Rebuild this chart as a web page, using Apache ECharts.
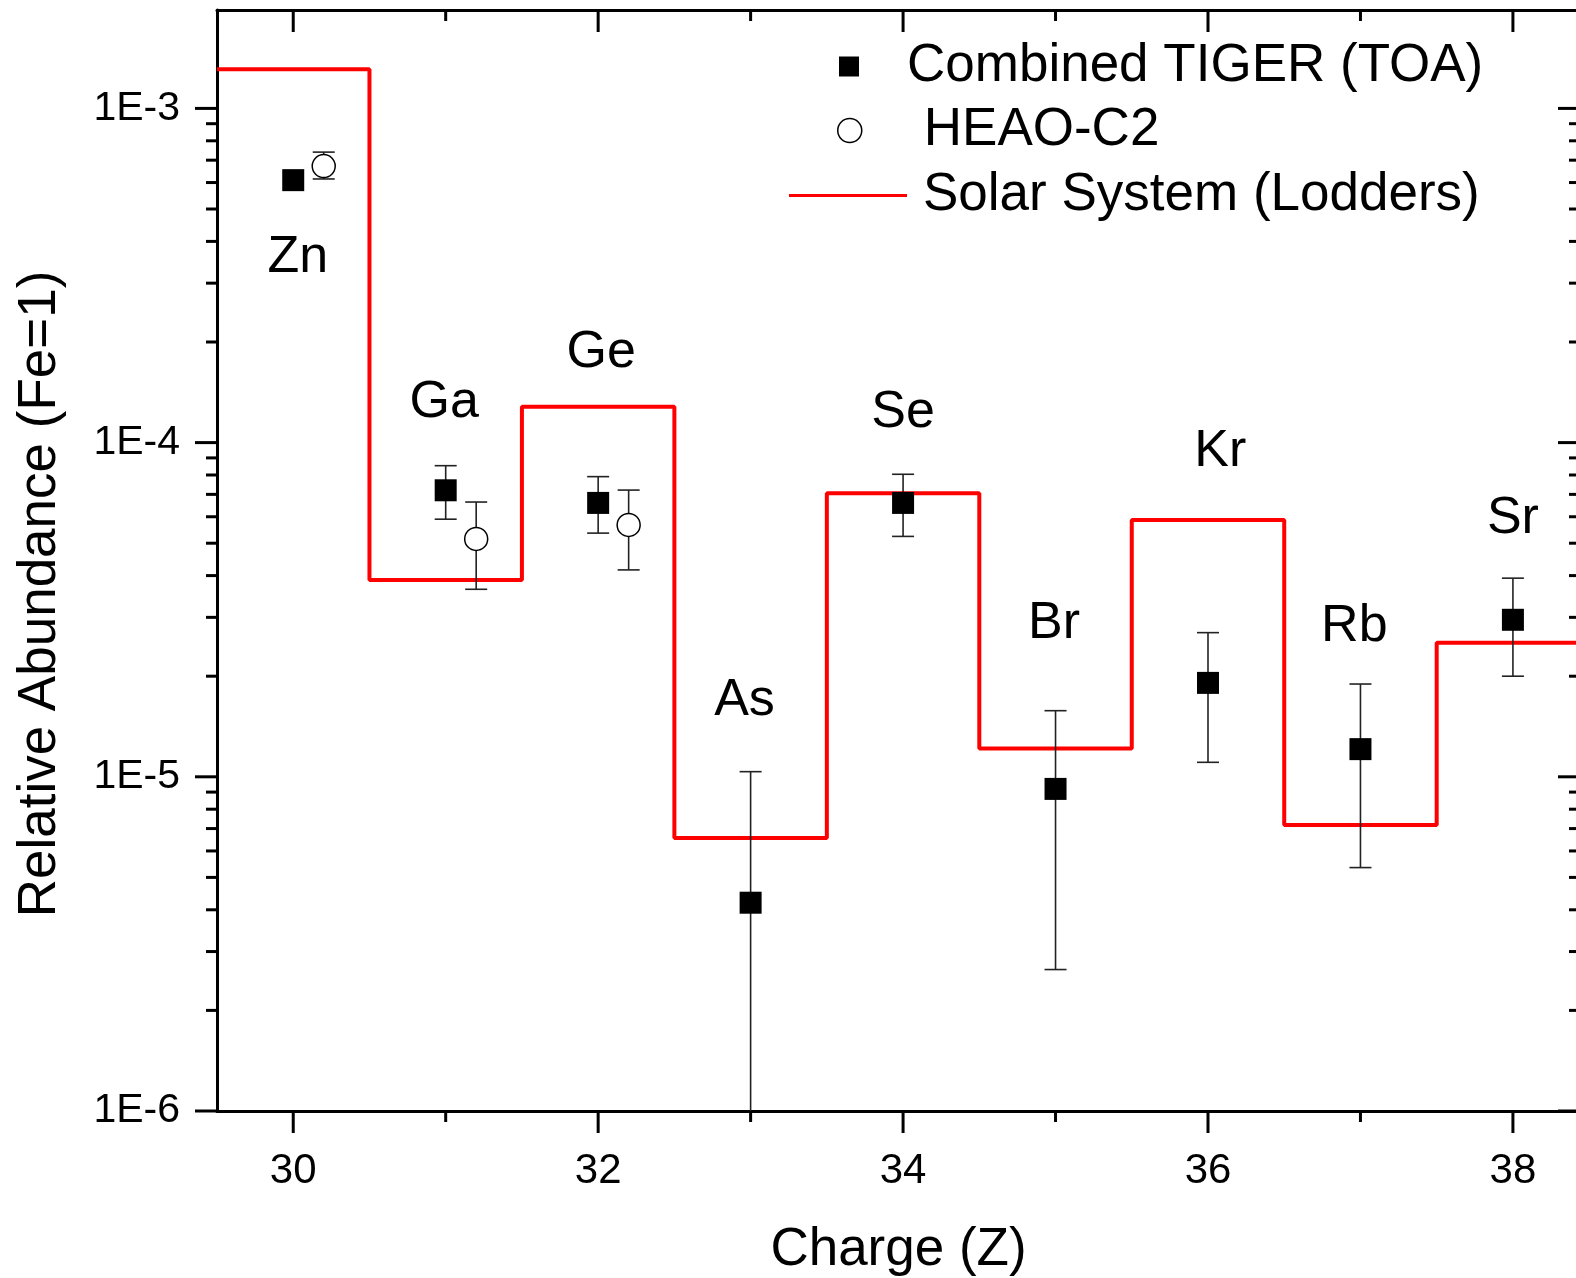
<!DOCTYPE html>
<html>
<head>
<meta charset="utf-8">
<script src="https://cdn.jsdelivr.net/npm/echarts@6/dist/echarts.min.js"></script>
<style>
html,body{margin:0;padding:0;background:#fff;}
#chart{width:1576px;height:1278px;}
</style>
</head>
<body>
<div id="chart"></div>
<script>
// ---------- data ----------
const Z = [30, 31, 32, 33, 34, 35, 36, 37, 38];
const elements = ['Zn', 'Ga', 'Ge', 'As', 'Se', 'Br', 'Kr', 'Rb', 'Sr'];

// Combined TIGER (TOA)
const tigerValue = [6.1e-4, 7.2e-5, 6.6e-5, 4.2e-6, 6.6e-5, 9.2e-6, 1.91e-5, 1.21e-5, 2.95e-5];
const tigerLow   = [null,   5.9e-5, 5.36e-5, 4.0e-7, 5.24e-5, 2.65e-6, 1.105e-5, 5.35e-6, 2.0e-5];
const tigerHigh  = [null,   8.53e-5, 7.91e-5, 1.036e-5, 8.04e-5, 1.577e-5, 2.70e-5, 1.895e-5, 3.93e-5];

// HEAO-C2 (plotted slightly offset in Z)
const heaoZ     = [30.2, 31.2, 32.2];
const heaoValue = [6.72e-4, 5.15e-5, 5.67e-5];
const heaoLow   = [6.15e-4, 3.64e-5, 4.16e-5];
const heaoHigh  = [7.4e-4, 6.64e-5, 7.21e-5];

// Solar System (Lodders)
const solar = [1.31e-3, 3.88e-5, 1.28e-4, 6.56e-6, 7.05e-5, 1.216e-5, 5.87e-5, 7.17e-6, 2.52e-5];

// element label anchor positions
const labelZ     = [30.03, 30.99, 32.02, 32.96, 34.0, 34.99, 36.08, 36.96, 38.0];
const labelValue = [3.67e-4, 1.35e-4, 1.905e-4, 1.733e-5, 1.26e-4, 2.945e-5, 9.63e-5, 2.885e-5, 6.07e-5];

// axes
const X_MIN = 29.5, X_MAX = 38.44;
const Y_MIN = 1e-6, Y_MAX = 1.97e-3;
const xTickValues = [30, 31, 32, 33, 34, 35, 36, 37, 38];
const xMajor = [30, 32, 34, 36, 38];
const yDecades = [-6, -5, -4, -3];
const yMultipliers = [1, 2, 3, 4, 5, 6, 7, 8, 9];

// ---------- build ----------
const FONT = 'Liberation Sans, Arial, Helvetica, sans-serif';
const yTickValues = [];
yDecades.forEach(d => yMultipliers.forEach(m => {
  const v = m * Math.pow(10, d);
  if (v >= Y_MIN * 0.999 && v <= Y_MAX) yTickValues.push(v);
}));
function isDecade(v) {
  const l = Math.log10(v);
  return Math.abs(l - Math.round(l)) < 1e-6;
}

const solarLine = [[X_MIN, solar[0]]]
  .concat(Z.map((z, i) => [z, solar[i]]))
  .concat([[38.5, solar[solar.length - 1]]]);

const tigerPts = Z.map((z, i) => [z, tigerValue[i]]);
const tigerErr = Z.map((z, i) => [z, tigerLow[i], tigerHigh[i]]).filter(d => d[1] != null);
const heaoPts = heaoZ.map((z, i) => [z, heaoValue[i]]);
const heaoErr = heaoZ.map((z, i) => [z, heaoLow[i], heaoHigh[i]]);
const labelPts = labelZ.map((z, i) => ({ value: [z, labelValue[i]], name: elements[i] }));

function errorRender(params, api) {
  const cs = params.coordSys;
  const x = api.coord([api.value(0), api.value(2)])[0];
  const yTop = api.coord([api.value(0), api.value(2)])[1];
  let yBot = api.coord([api.value(0), api.value(1)])[1];
  const bottomEdge = cs.y + cs.height;
  const clipped = yBot > bottomEdge;
  if (clipped) yBot = bottomEdge;
  const st = { stroke: '#222', lineWidth: 1.6 };
  const ch = [
    { type: 'line', shape: { x1: x, y1: yTop, x2: x, y2: yBot }, style: st },
    { type: 'line', shape: { x1: x - 11, y1: yTop, x2: x + 11, y2: yTop }, style: st }
  ];
  if (!clipped) ch.push({ type: 'line', shape: { x1: x - 11, y1: yBot, x2: x + 11, y2: yBot }, style: st });
  return { type: 'group', children: ch };
}

const legendText = { fontSize: 53, color: '#000', fontFamily: FONT, lineHeight: 53 };

const chart = echarts.init(document.getElementById('chart'), null, { renderer: 'canvas' });
const option = {
  backgroundColor: '#ffffff',
  animation: false,
  textStyle: { fontFamily: FONT },
  grid: { left: 217, top: 10, width: 1363, height: 1101, containLabel: false, outerBoundsMode: 'none' },
  legend: [
    {
      left: 839, top: 40, padding: 0, selectedMode: false, orient: 'vertical',
      itemWidth: 20, itemHeight: 20,
      textStyle: Object.assign({}, legendText, { padding: [0, 0, 0, 43] }),
      data: [{ name: 'Combined TIGER (TOA)', icon: 'rect', itemStyle: { color: '#000', borderWidth: 0 } }]
    },
    {
      left: 837, top: 104, padding: 0, selectedMode: false, orient: 'vertical',
      itemWidth: 24, itemHeight: 24,
      textStyle: Object.assign({}, legendText, { padding: [0, 0, 0, 57] }),
      data: [{ name: 'HEAO-C2', icon: 'circle', itemStyle: { color: '#fff', borderColor: '#000', borderWidth: 1.5 } }]
    },
    {
      left: 789, top: 169, padding: 0, selectedMode: false, orient: 'vertical',
      itemWidth: 118, itemHeight: 3,
      textStyle: Object.assign({}, legendText, { padding: [0, 0, 0, 11] }),
      data: [{ name: 'Solar System (Lodders)', icon: 'path://M0,0 H118 V3 H0 Z', itemStyle: { color: '#ff0000', borderWidth: 0 } }]
    }
  ],
  xAxis: [
    {
      type: 'value', min: X_MIN, max: X_MAX, interval: 0.5, position: 'bottom',
      name: 'Charge (Z)', nameLocation: 'middle', nameGap: 113,
      nameTextStyle: { fontSize: 53, color: '#000', fontFamily: FONT },
      axisLine: { show: true, onZero: false, lineStyle: { color: '#000', width: 3 } },
      axisTick: { show: false },
      splitLine: { show: false },
      axisLabel: {
        fontSize: 42, color: '#000', margin: 39, fontFamily: FONT,
        showMinLabel: false, showMaxLabel: false,
        formatter: v => {
          const r = Math.round(v);
          return (Math.abs(v - r) < 1e-6 && xMajor.indexOf(r) >= 0) ? String(r) : '';
        }
      }
    },
    {
      type: 'value', min: X_MIN, max: X_MAX, interval: 0.5, position: 'top',
      axisLine: { show: true, onZero: false, lineStyle: { color: '#000', width: 3 } },
      axisTick: { show: false }, axisLabel: { show: false }, splitLine: { show: false }
    }
  ],
  yAxis: [
    {
      type: 'log', logBase: 10, min: Y_MIN, max: Y_MAX, position: 'left',
      name: 'Relative Abundance (Fe=1)', nameLocation: 'middle', nameGap: 150, nameRotate: 90,
      nameTextStyle: { fontSize: 53, color: '#000', fontFamily: FONT, padding: [0, 67, 0, 0] },
      axisLine: { show: true, onZero: false, lineStyle: { color: '#000', width: 3 } },
      axisTick: { show: false },
      splitLine: { show: false },
      axisLabel: {
        fontSize: 41, color: '#000', margin: 37, fontFamily: FONT,
        formatter: v => isDecade(v) ? ('1E' + Math.round(Math.log10(v))) : ''
      }
    },
    {
      type: 'log', logBase: 10, min: Y_MIN, max: Y_MAX, position: 'right',
      axisLine: { show: true, onZero: false, lineStyle: { color: '#000', width: 3 } },
      axisTick: { show: false }, axisLabel: { show: false }, splitLine: { show: false }
    }
  ],
  series: [
    {
      name: 'Solar System (Lodders)', type: 'line', step: 'middle',
      data: solarLine, symbol: 'none', showSymbol: false, clip: true,
      lineStyle: { color: '#ff0000', width: 4 }, itemStyle: { color: '#ff0000' }, z: 2
    },
    {
      name: 'tigerErr', type: 'custom', data: tigerErr, renderItem: errorRender,
      encode: { x: 0, y: [1, 2] }, z: 3, silent: true
    },
    {
      name: 'heaoErr', type: 'custom', data: heaoErr, renderItem: errorRender,
      encode: { x: 0, y: [1, 2] }, z: 3, silent: true
    },
    {
      name: 'Combined TIGER (TOA)', type: 'scatter', data: tigerPts,
      symbol: 'rect', symbolSize: 22, itemStyle: { color: '#000', opacity: 1 }, z: 5
    },
    {
      name: 'HEAO-C2', type: 'scatter', data: heaoPts,
      symbol: 'circle', symbolSize: 23,
      itemStyle: { color: '#fff', borderColor: '#000', borderWidth: 1.5, opacity: 1 }, z: 5
    },
    {
      name: 'elementLabels', type: 'scatter', data: labelPts,
      symbol: 'circle', symbolSize: 0, itemStyle: { color: '#000', opacity: 1 }, silent: true,
      label: {
        show: true, position: 'inside', formatter: p => p.name, offset: [0, 4],
        fontSize: 52, color: '#000', opacity: 1, textBorderWidth: 0, fontFamily: FONT
      }, z: 6
    },
    {
      name: 'yTicks', type: 'custom', silent: true, z: 7,
      data: yTickValues.map(v => [X_MIN, v]),
      renderItem: (params, api) => {
        const cs = params.coordSys;
        const v = api.value(1);
        const y = api.coord([X_MIN, v])[1];
        const len = isDecade(v) ? 22 : 11;
        const st = { stroke: '#000', lineWidth: 3 };
        return { type: 'group', children: [
          { type: 'line', shape: { x1: cs.x - len, y1: y, x2: cs.x, y2: y }, style: st },
          { type: 'line', shape: { x1: cs.x + cs.width - len, y1: y, x2: cs.x + cs.width, y2: y }, style: st }
        ] };
      }
    },
    {
      name: 'xTicks', type: 'custom', silent: true, z: 7,
      data: xTickValues.map(v => [v, Y_MIN]),
      renderItem: (params, api) => {
        const cs = params.coordSys;
        const v = api.value(0);
        const x = api.coord([v, Y_MIN])[0];
        const len = xMajor.indexOf(v) >= 0 ? 22 : 11;
        const st = { stroke: '#000', lineWidth: 3 };
        return { type: 'group', children: [
          { type: 'line', shape: { x1: x, y1: cs.y + cs.height, x2: x, y2: cs.y + cs.height + len }, style: st },
          { type: 'line', shape: { x1: x, y1: cs.y, x2: x, y2: cs.y + len }, style: st }
        ] };
      }
    }
  ]
};
chart.setOption(option);
</script>
</body>
</html>
